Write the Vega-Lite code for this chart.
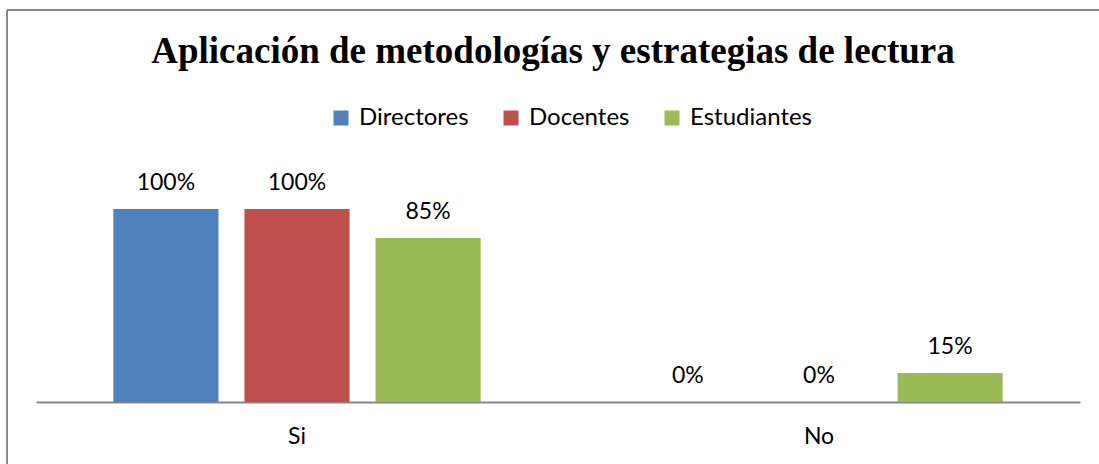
{
  "$schema": "https://vega.github.io/schema/vega-lite/v6.json",
  "width": 1092,
  "height": 454,
  "autosize": "none",
  "padding": {"left": 7, "top": 10, "right": 0, "bottom": 0},
  "background": "white",
  "title": {
    "text": "Aplicación de metodologías y estrategias de lectura",
    "font": "Liberation Serif",
    "fontSize": 37,
    "fontWeight": "bold",
    "color": "#000000",
    "anchor": "middle",
    "frame": "group",
    "baseline": "alphabetic",
    "offset": 0,
    "dy": 90
  },
  "data": {
    "values": [
      {"respuesta": "Si", "grupo": "Directores", "valor": 1.0},
      {"respuesta": "Si", "grupo": "Docentes", "valor": 1.0},
      {"respuesta": "Si", "grupo": "Estudiantes", "valor": 0.85},
      {"respuesta": "No", "grupo": "Directores", "valor": 0.0},
      {"respuesta": "No", "grupo": "Docentes", "valor": 0.0},
      {"respuesta": "No", "grupo": "Estudiantes", "valor": 0.15}
    ]
  },
  "encoding": {
    "x": {
      "field": "respuesta",
      "type": "nominal",
      "sort": ["Si", "No"],
      "scale": {"range": [29, 1073], "paddingInner": 0, "paddingOuter": 0},
      "axis": {
        "title": null,
        "labelAngle": 0,
        "orient": "bottom",
        "offset": -62,
        "domainColor": "#868686",
        "domainWidth": 2,
        "ticks": false,
        "grid": false,
        "labelFont": "Lato",
        "labelFontSize": 23,
        "labelColor": "#000000",
        "labelPadding": 23
      }
    },
    "xOffset": {
      "field": "grupo",
      "type": "nominal",
      "sort": ["Directores", "Docentes", "Estudiantes"],
      "scale": {"paddingInner": 0.198, "paddingOuter": 0.59}
    },
    "y": {
      "field": "valor",
      "type": "quantitative",
      "scale": {"domain": [0, 1], "range": [392, 199], "zero": true, "nice": false},
      "axis": null
    }
  },
  "layer": [
    {
      "mark": {"type": "bar"},
      "encoding": {
        "color": {
          "field": "grupo",
          "type": "nominal",
          "sort": ["Directores", "Docentes", "Estudiantes"],
          "scale": {
            "domain": ["Directores", "Docentes", "Estudiantes"],
            "range": ["#4F81BD", "#C0504D", "#9BBB59"]
          },
          "legend": {
            "title": null,
            "orient": "none",
            "legendX": 322,
            "legendY": 96,
            "direction": "horizontal",
            "columns": 3,
            "symbolType": "square",
            "symbolSize": 225,
            "symbolStrokeWidth": 0,
            "labelFont": "Lato",
            "labelFontSize": 24,
            "labelColor": "#000000",
            "labelOffset": 6,
            "columnPadding": 30,
            "padding": 0
          }
        }
      }
    },
    {
      "mark": {
        "type": "text",
        "font": "Lato",
        "fontSize": 23,
        "color": "#000000",
        "baseline": "alphabetic",
        "dy": -19
      },
      "encoding": {
        "text": {"field": "valor", "type": "quantitative", "format": ".0%"}
      }
    }
  ],
  "config": {
    "view": {"stroke": "#868686", "strokeWidth": 2, "strokeDash": [1092, 1546, 454, 0]}
  }
}
